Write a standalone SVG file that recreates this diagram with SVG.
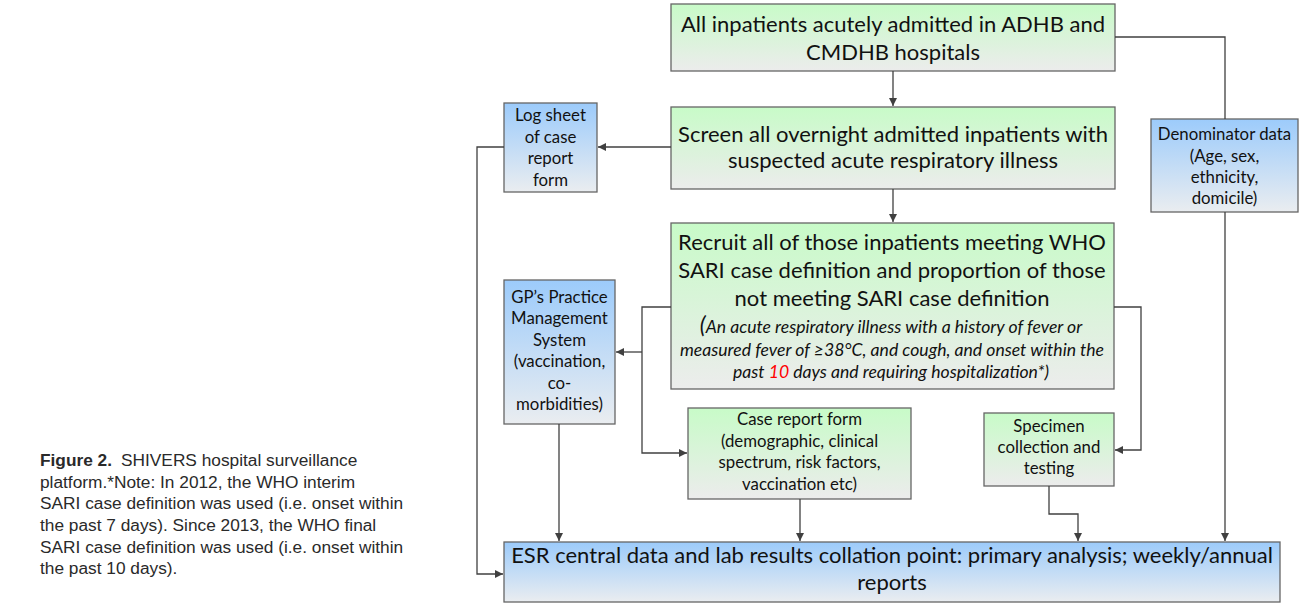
<svg xmlns="http://www.w3.org/2000/svg" width="1300" height="605" viewBox="0 0 1300 605">
<defs>
<linearGradient id="gGreen" x1="0" y1="0" x2="0" y2="1">
<stop offset="0" stop-color="#c8fbc8"/>
<stop offset="1" stop-color="#ececec"/>
</linearGradient>
<linearGradient id="gBlue" x1="0" y1="0" x2="0" y2="1">
<stop offset="0" stop-color="#9ccbfb"/>
<stop offset="1" stop-color="#eaedf0"/>
</linearGradient>
<marker id="arr" viewBox="0 0 10 10" refX="10" refY="5" markerWidth="8" markerHeight="8" markerUnits="userSpaceOnUse" orient="auto">
<path d="M0,0 L10,5 L0,10 z" fill="#404040"/>
</marker>
</defs>
<style>
.green{fill:url(#gGreen);stroke:#666;stroke-width:1.3}
.blue{fill:url(#gBlue);stroke:#666;stroke-width:1.3}
.big{font-family:Lato,"Open Sans",sans-serif;font-size:22px;fill:#111;text-anchor:middle}
.sm{font-family:Lato,"Open Sans",sans-serif;font-size:16.8px;fill:#111;text-anchor:middle}
.it{font-family:Lato,"Open Sans",sans-serif;font-size:17.6px;font-style:italic;fill:#111;text-anchor:middle}
.cap{font-family:"Liberation Sans",Arial,sans-serif;font-size:17.3px;fill:#2a2a2a}
.conn path{fill:none;stroke:#404040;stroke-width:1.3}
</style>
<rect width="1300" height="605" fill="#fff"/>

<g id="caption">
<text class="cap" x="40" y="466"><tspan font-weight="bold">Figure 2.</tspan><tspan dx="9">SHIVERS hospital surveillance</tspan></text>
<text class="cap" x="40" y="488">platform.*Note: In 2012, the WHO interim</text>
<text class="cap" x="40" y="509">SARI case definition was used (i.e. onset within</text>
<text class="cap" x="40" y="531">the past 7 days). Since 2013, the WHO final</text>
<text class="cap" x="40" y="553">SARI case definition was used (i.e. onset within</text>
<text class="cap" x="40" y="574">the past 10 days).</text>
</g>

<g id="allInpatients">
<rect class="green" x="671" y="4" width="444" height="67"/>
<text class="big" x="893" y="32">All inpatients acutely admitted in ADHB and</text>
<text class="big" x="893" y="60">CMDHB hospitals</text>
</g>

<g id="screen">
<rect class="green" x="671" y="107" width="444" height="82"/>
<text class="big" x="893" y="142">Screen all overnight admitted inpatients with</text>
<text class="big" x="893" y="168">suspected acute respiratory illness</text>
</g>

<g id="logSheet">
<rect class="blue" x="504" y="103" width="93" height="89"/>
<text class="sm" x="550.5" y="121">Log sheet</text>
<text class="sm" x="550.5" y="143">of case</text>
<text class="sm" x="550.5" y="164">report</text>
<text class="sm" x="550.5" y="186">form</text>
</g>

<g id="denominator">
<rect class="blue" x="1151" y="119" width="147" height="93"/>
<text class="sm" x="1224.5" y="140">Denominator data</text>
<text class="sm" x="1224.5" y="162">(Age, sex,</text>
<text class="sm" x="1224.5" y="183">ethnicity,</text>
<text class="sm" x="1224.5" y="204">domicile)</text>
</g>

<g id="recruit">
<rect class="green" x="671" y="223" width="443" height="166"/>
<text class="big" x="892" y="250">Recruit all of those inpatients meeting WHO</text>
<text class="big" x="892" y="278">SARI case definition and proportion of those</text>
<text class="big" x="892" y="306">not meeting SARI case definition</text>
<text class="it" x="891" y="333"><tspan font-size="23">(</tspan>An acute respiratory illness with a history of fever or</text>
<text class="it" x="892" y="356">measured fever of ≥38°C, and cough, and onset within the</text>
<text class="it" x="891" y="378">past <tspan fill="#ff0000">10</tspan> days and requiring hospitalization*)</text>
</g>

<g id="gp">
<rect class="blue" x="504" y="280" width="111" height="144"/>
<text class="sm" x="559.5" y="303">GP’s Practice</text>
<text class="sm" x="559.5" y="324">Management</text>
<text class="sm" x="559.5" y="346">System</text>
<text class="sm" x="559.5" y="367">(vaccination,</text>
<text class="sm" x="559.5" y="389">co-</text>
<text class="sm" x="559.5" y="410">morbidities)</text>
</g>

<g id="caseReport">
<rect class="green" x="688" y="408" width="223" height="91"/>
<text class="sm" x="799.5" y="425">Case report form</text>
<text class="sm" x="799.5" y="447">(demographic, clinical</text>
<text class="sm" x="799.5" y="468">spectrum, risk factors,</text>
<text class="sm" x="799.5" y="490">vaccination etc)</text>
</g>

<g id="specimen">
<rect class="green" x="984" y="413" width="130" height="73"/>
<text class="sm" x="1049" y="432">Specimen</text>
<text class="sm" x="1049" y="453">collection and</text>
<text class="sm" x="1049" y="474">testing</text>
</g>

<g id="esr">
<rect class="blue" x="504" y="542" width="776" height="60"/>
<text class="big" x="892" y="563">ESR central data and lab results collation point: primary analysis; weekly/annual</text>
<text class="big" x="892" y="590">reports</text>
</g>

<g id="connectors" class="conn">
<path d="M893,71 V106" marker-end="url(#arr)"/>
<path d="M893,189 V222" marker-end="url(#arr)"/>
<path d="M671,147 H598" marker-end="url(#arr)"/>
<path d="M504,147 H477 V574 H503" marker-end="url(#arr)"/>
<path d="M1115,37 H1225 V119"/>
<path d="M1225,212 V541" marker-end="url(#arr)"/>
<path d="M671,307 H642 V453 H687" marker-end="url(#arr)"/>
<path d="M642,352 H616" marker-end="url(#arr)"/>
<path d="M1114,307 H1141 V450 H1115" marker-end="url(#arr)"/>
<path d="M1049,486 V514 H1078 V541" marker-end="url(#arr)"/>
<path d="M800,499 V541" marker-end="url(#arr)"/>
<path d="M559,424 V541" marker-end="url(#arr)"/>
</g>
</svg>
